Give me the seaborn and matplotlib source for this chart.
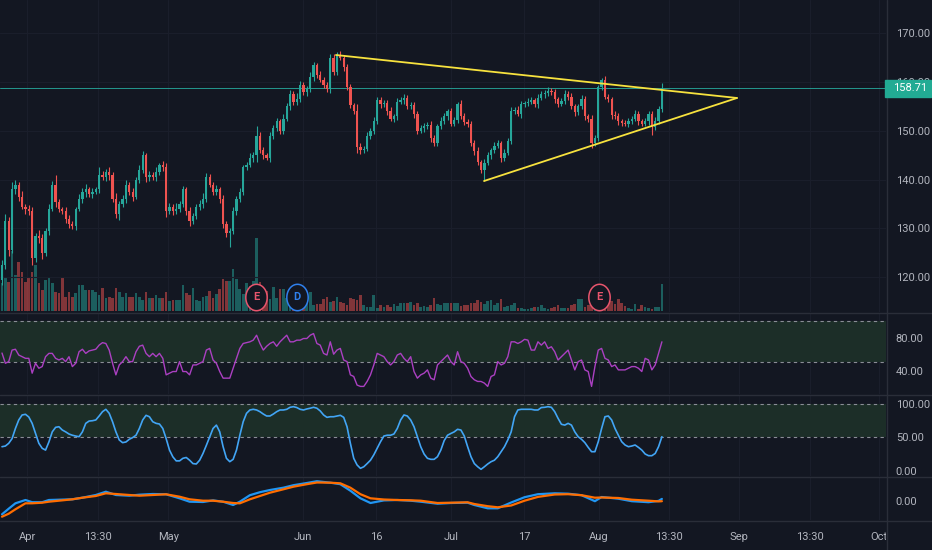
import numpy as np
import matplotlib
matplotlib.use("Agg")
import matplotlib.pyplot as plt
import matplotlib.transforms as mtransforms
from matplotlib.lines import Line2D
from matplotlib.patches import Rectangle
from matplotlib.path import Path
import seaborn as sns

# ---- data (4h bars, Apr -> mid Aug) ----
first_open = 119.5
closes = [
    122.5, 131.5, 125.5, 138, 139, 136.5, 134.5, 134, 133.5, 124,
    128.5, 128, 125, 129.5, 134, 139, 135.5, 134, 133.5, 132,
    131, 130.5, 134, 136, 137.5, 138, 137, 137.5, 138, 141,
    140.5, 141.5, 141, 136, 133, 135, 136, 139, 137.5, 136.5,
    140, 142, 145, 140.5, 141, 140.5, 141.5, 143, 142.5, 133.5,
    134.5, 133.5, 134, 135, 138, 133.5, 131.5, 132.5, 134.5, 135,
    136, 140.5, 139, 137.5, 138, 136, 131, 129, 129.5, 133.5,
    136, 137.5, 142.5, 143, 144.5, 145, 149, 146, 145, 144.5,
    149, 150.5, 152, 150, 152.5, 155, 157.5, 156, 156.5, 159.5,
    158, 158.5, 161, 163.5, 161.5, 160.5, 159.5, 158.5, 165, 162,
    165.5, 165, 163, 159, 155.3, 154, 146.7, 146, 146.3, 149,
    150, 152, 156.3, 155.5, 155.8, 154, 152.5, 153, 156, 156.3,
    156.8, 155, 155.3, 153.5, 150, 150.5, 151, 151.3, 148.5, 147.5,
    151, 152, 153, 154, 151.5, 152.3, 155.5, 153, 151.8, 151.5,
    147.5, 145.8, 143.6, 142, 143.5, 145, 146, 147, 147.5, 144.5,
    145.5, 148, 154, 154.3, 153.5, 155.5, 155.7, 156, 156.3, 155.5,
    156.8, 157.5, 157.8, 158.2, 157.9, 156.5, 155.5, 156.2, 157.6, 157,
    155, 153.8, 155, 156.5, 153, 152.5, 147.5, 148.5, 159, 160.5,
    157, 156.5, 153.2, 153, 152, 151.6, 151.5, 152, 152.5, 153.5,
    152, 151.5, 152, 153.5, 150.8, 152, 154.5, 158.71]

wick_up = [
    1.0, 1.5, 0.8, 1.5, 1.0, 0.6, 1.2, 0.5, 0.8, 1.0,
    0.6, 1.2, 0.8, 0.5, 1.0, 0.8, 2.0, 0.6, 0.5, 1.0,
    0.8, 0.6, 0.5, 1.0, 0.7, 1.2, 0.5, 0.8, 0.6, 1.5,
    0.8, 0.6, 1.0, 0.5, 1.2, 0.6, 0.8, 1.0, 0.5, 0.7,
    0.6, 1.0, 0.8, 0.5, 0.7, 0.6, 1.0, 0.5, 0.8, 1.0,
    0.7, 0.5, 1.2, 0.6, 0.8, 0.5, 1.0, 0.6, 0.5, 0.8,
    1.2, 0.8, 0.6, 0.5, 0.9, 0.6, 0.8, 0.5, 0.7, 1.0,
    0.6, 0.8, 0.5, 0.7, 1.0, 0.6, 2.0, 0.8, 0.6, 0.5,
    0.7, 0.8, 0.6, 0.5, 1.0, 0.7, 0.8, 0.6, 1.2, 0.8,
    0.5, 0.7, 1.0, 0.6, 0.5, 0.8, 0.6, 0.5, 0.8, 0.7,
    0.6, 0.8, 0.5, 0.7, 0.6, 0.5, 1.5, 0.8, 0.6, 0.7,
    0.5, 0.8, 0.6, 0.7, 0.5, 0.6, 0.8, 0.5, 0.7, 0.6,
    0.8, 0.5, 0.6, 0.7, 0.5, 0.8, 0.6, 0.5, 0.7, 0.6,
    0.5, 0.8, 0.6, 0.5, 0.7, 0.6, 0.5, 0.8, 0.6, 0.7,
    0.5, 0.6, 0.8, 0.5, 0.7, 0.6, 0.5, 0.8, 0.6, 0.5,
    0.7, 0.6, 0.8, 0.5, 0.7, 0.6, 0.5, 0.8, 0.6, 0.5,
    0.7, 0.6, 0.5, 0.8, 0.6, 0.7, 0.5, 0.6, 0.8, 0.5,
    0.7, 0.6, 0.5, 0.8, 0.6, 0.5, 0.7, 0.6, 0.5, 0.3,
    0.7, 0.6, 0.5, 0.8, 0.6, 0.5, 0.7, 0.6, 0.5, 0.8,
    0.6, 0.5, 0.7, 0.6, 0.5, 0.8, 0.7, 1.1]

wick_dn = [
    1.0, 0.8, 1.2, 0.6, 1.0, 0.8, 0.5, 1.0, 0.7, 1.5,
    0.8, 1.0, 1.2, 0.6, 0.8, 0.5, 1.0, 0.7, 0.6, 0.8,
    1.0, 0.6, 0.8, 0.5, 0.7, 1.0, 0.6, 0.8, 0.5, 0.7,
    0.6, 0.8, 1.0, 0.6, 0.8, 1.2, 0.5, 0.7, 0.6, 0.8,
    0.5, 0.7, 0.6, 1.0, 0.8, 0.5, 0.7, 0.6, 0.8, 1.2,
    0.6, 0.8, 0.5, 0.7, 0.6, 0.8, 1.0, 0.6, 0.5, 0.7,
    0.8, 0.6, 0.5, 0.7, 0.6, 0.8, 1.0, 0.7, 2.8, 0.6,
    0.8, 0.5, 0.7, 0.6, 0.5, 0.8, 1.3, 0.6, 0.7, 0.5,
    0.8, 0.6, 0.5, 0.7, 0.6, 0.5, 0.8, 0.6, 0.7, 0.5,
    0.6, 0.8, 0.5, 0.7, 0.6, 0.5, 0.8, 0.6, 0.7, 0.5,
    0.6, 0.5, 0.8, 0.6, 0.7, 0.5, 1.2, 0.8, 0.6, 0.5,
    0.7, 0.6, 0.5, 0.8, 0.6, 0.7, 0.5, 0.6, 0.8, 0.5,
    0.7, 0.6, 0.5, 0.8, 0.6, 0.5, 0.7, 0.6, 0.8, 0.5,
    0.6, 0.7, 0.5, 0.8, 0.6, 0.5, 0.7, 0.6, 0.5, 0.8,
    0.6, 0.7, 0.5, 0.6, 2.3, 0.5, 0.7, 0.6, 0.5, 0.8,
    0.6, 0.5, 0.7, 0.6, 0.5, 0.8, 0.6, 0.7, 0.5, 0.6,
    0.8, 0.5, 0.7, 0.6, 0.5, 0.8, 0.6, 0.5, 0.7, 0.6,
    0.5, 0.8, 0.6, 0.5, 0.7, 0.6, 1.0, 0.5, 0.6, 0.7,
    0.5, 0.6, 0.8, 0.5, 0.7, 0.6, 0.5, 0.8, 0.6, 0.5,
    0.7, 0.6, 0.5, 0.8, 1.6, 0.6, 0.5, 0.6]

volume = [
    28, 33, 29, 60, 36, 49, 39, 29, 34, 39,
    46, 28, 21, 31, 33, 28, 19, 18, 34, 14,
    19, 14, 18, 26, 26, 21, 21, 21, 19, 16,
    23, 13, 14, 13, 23, 19, 14, 18, 14, 14,
    18, 14, 11, 19, 13, 13, 16, 13, 13, 19,
    10, 11, 11, 11, 26, 18, 16, 23, 11, 10,
    14, 15, 20, 13, 17, 22, 32, 30, 30, 42,
    32, 22, 17, 28, 25, 30, 73, 29, 20, 20,
    12, 24, 13, 22, 22, 13, 10, 8, 8, 5,
    8, 12, 19, 6, 7, 7, 12, 14, 9, 10,
    14, 9, 8, 6, 13, 12, 11, 16, 6, 4,
    4, 16, 3, 6, 4, 6, 4, 7, 5, 8,
    8, 8, 9, 6, 8, 4, 5, 4, 6, 13,
    7, 6, 8, 8, 8, 8, 8, 5, 6, 6,
    8, 8, 11, 9, 7, 10, 11, 6, 8, 12,
    4, 5, 6, 8, 3, 3, 2, 2, 3, 4,
    4, 6, 3, 2, 3, 4, 6, 3, 3, 3,
    6, 7, 12, 12, 4, 6, 8, 9, 14, 12,
    10, 8, 10, 7, 12, 8, 5, 3, 2, 7,
    2, 6, 4, 3, 2, 4, 4, 27]

rsi = [
    61.4, 49, 51, 65, 66, 59, 57, 55, 55, 37,
    49, 43, 45, 57, 61, 61, 55, 53, 55, 51,
    57, 45, 49, 63, 66, 61, 64, 65, 66, 71,
    74, 73, 65, 49, 35, 47, 51, 57, 51, 51,
    63, 69.6, 71, 61, 57, 61, 57, 61, 55, 35,
    37, 39, 39, 51, 39, 39, 35, 47, 47, 49,
    51, 65, 67, 53, 49, 39, 31, 31, 31, 43,
    55, 67, 73, 74, 75, 77, 83, 73, 65, 69.6,
    73, 75, 69.6, 75, 79, 83, 75, 75, 77, 77,
    79, 79, 83, 85, 73, 71, 61, 59, 75, 60,
    65, 67, 53, 51, 35, 33, 22.6, 21, 21, 27,
    35, 47, 61, 59, 57, 51, 47, 51, 59, 61,
    55, 51, 57, 39, 31, 35, 37, 41, 31, 29,
    47, 51, 55, 59, 51, 47, 63, 51, 49, 43,
    33, 29, 27, 27, 25, 21, 33, 35, 51, 47,
    49, 57, 75, 75, 73, 75, 78, 77, 65, 65,
    75, 71, 75, 67, 69, 63, 53, 57, 61, 65,
    53, 41, 51, 53, 41, 39, 21, 45, 65, 67,
    55, 53, 45, 47, 41, 41, 41, 43, 45, 45,
    43, 39, 55, 53, 41, 47, 61, 75]

stoch = [
    36, 37, 41, 48, 63, 75.6, 83, 84, 80, 70.6,
    55.6, 41, 33.6, 31, 43, 58, 64.7, 65.6, 60.7, 58,
    54.8, 53, 51.8, 50.8, 58, 70.6, 74, 74.5, 75.6, 81.5,
    87.9, 91.4, 85.5, 73, 58, 46, 42, 43, 47, 49.5,
    53, 63, 75.6, 82.5, 80.4, 73, 70.6, 69.6, 63, 48,
    31, 21, 15, 15, 18.8, 20, 16, 11, 10.4, 16,
    26, 38, 50.7, 63, 68, 58, 36, 18.8, 13.8, 17.3,
    31, 53, 73, 85.5, 90.4, 91.4, 90.4, 87.9, 84.4, 81.5,
    81.5, 84.4, 87.9, 90.4, 90.4, 91.4, 94.4, 95.3, 94, 91.4,
    90.4, 91.9, 93, 94.4, 93, 89, 83, 79.5, 80.4, 80.4,
    81.5, 82.5, 79.5, 65.6, 41, 18.8, 9, 4, 6.3, 11,
    16, 24, 33.6, 43.4, 51.8, 53, 53, 54.8, 63, 75.6,
    83, 81.5, 75.6, 65.6, 50.8, 36, 25.2, 18.8, 17.3, 17.3,
    21.2, 31, 45, 53, 55.6, 58, 61.8, 60.7, 51.8, 36,
    21.2, 11, 6.3, 2.5, 6.3, 10.4, 13.8, 16, 21.2, 28.6,
    36, 46, 58, 80.4, 90.4, 91.4, 91.4, 91.4, 91.4, 90.4,
    90.4, 94, 94.4, 95.3, 94.4, 87.9, 78, 69.2, 68, 70.6,
    68, 58, 50.8, 47, 42, 35, 28.6, 28.6, 43.4, 63,
    80.4, 81.5, 75.6, 63, 53, 43.4, 38.5, 36, 37, 38.5,
    35, 31, 25.2, 22.7, 22.7, 26, 36, 50.8]

macd_bar = [0, 2, 4, 7, 9, 12, 14, 17, 21, 24, 28, 31, 34, 38, 41, 45, 49, 53,
            56, 60, 63, 66, 69, 71, 74, 77, 80, 84, 87, 91, 94, 98, 101, 104,
            107, 110, 114, 118, 122, 125, 130, 134, 139, 141, 145, 148, 152,
            156, 160, 165, 169, 173, 177, 179, 184, 188, 193, 196, 197]
macd_line = [-13.6, -8, -2.6, 0.7, -1.5, -1.5, 0.7, 1.0, 1.4, 3, 5.7, 9, 5.7,
             5, 6, 6.7, 6.4, 2.4, -1, -1.3, 0.3, -1, -4.3, -1, 5.5, 8.5, 10.7,
             13, 15.5, 17.7, 19.5, 18, 16.5, 10, 2.4, -2.3, 0.3, 0.7, 0, -1, -3,
             -2.3, -2, -4.3, -7.6, -7.6, -1.8, 3.5, 6.5, 7.4, 7, 5.5, -0.5, 3.7,
             2, -0.5, -1.5, -0.2, 1.8]
signal_line = [-16, -13, -8.6, -2.6, -2.6, -2, -1, 0, 1.4, 3, 4.7, 7.4, 6.7,
               5.7, 5, 5.7, 6.4, 4, 1.4, 0, 0, -1, -2.3, -2.6, 1.4, 4.7, 8,
               11.4, 14, 16.5, 18.2, 18, 17.4, 13, 6.5, 2.4, 1.2, 0.7, 0.4, 0,
               -2.3, -2, -1.6, -3.3, -5.5, -6.6, -4.8, 0, 3.8, 6.2, 6.5, 5.5, 3,
               3.2, 2.7, 1, 0, -0.7, -0.5]

# triangle drawing (bar index, price)
tri_upper_x = [99.7, 219.4]
tri_upper_y = [165.55, 156.74]
tri_lower_x = [143.9, 219.4]
tri_lower_y = [139.73, 156.74]

# earnings / dividend markers
events = [("E", 75.8, "#e8556d"), ("D", 88.0, "#2f80ed"), ("E", 178.2, "#e8556d")]

time_pos = [7.5, 28.7, 49.6, 89.9, 111.6, 134, 155.8, 178.2, 199.1, 220, 241.2, 261.8]
time_lab = ["Apr", "13:30", "May", "Jun", "16", "Jul", "17", "Aug", "13:30", "Sep", "13:30", "Oct"]

price_ticks = [120, 130, 140, 150, 160, 170]

# ---- styling ----
BG = "#131722"
TXT = "#b2b5be"
GRID = "#1a1e2b"
SEP = "#2a2e39"
UP = "#26a69a"
DN = "#ef5350"
YEL = "#f7e23e"
BAND = "#1c2e28"

sns.set_theme(style="dark", rc={"axes.facecolor": BG, "figure.facecolor": BG,
                                "savefig.facecolor": BG})
plt.rcParams["font.family"] = ["Roboto", "DejaVu Sans"]

n = len(closes)
bars = np.arange(n)
c = np.array(closes)
o = np.array([first_open] + closes[:-1])
hi = np.maximum(o, c) + np.array(wick_up)
lo = np.minimum(o, c) - np.array(wick_dn)
cols = np.where(c >= o, UP, DN)

W, H, PW = 932, 550, 886
XLIM = (-0.6, 263.9)


def rect(top, bottom):
    return [0, 1 - bottom / H, PW / W, (bottom - top) / H]


fig = plt.figure(figsize=(W / 100, H / 100), dpi=100)
ax_vol = fig.add_axes(rect(0, 312))
ax = fig.add_axes(rect(0, 312))
ax_rsi = fig.add_axes(rect(313, 394))
ax_sto = fig.add_axes(rect(395, 476))
ax_macd = fig.add_axes(rect(477, 520))
ax_time = fig.add_axes(rect(520, 550))
ax.set_facecolor("none")

for a in (ax_vol, ax, ax_rsi, ax_sto, ax_macd, ax_time):
    a.set_xlim(*XLIM)
    a.grid(False)
    for s in a.spines.values():
        s.set_visible(False)
    a.tick_params(axis="x", bottom=False, labelbottom=False)

# vertical grid
for a in (ax_vol, ax_rsi, ax_sto, ax_macd):
    for p in time_pos:
        a.axvline(p, color=GRID, lw=0.8, zorder=0)

# volume
ax_vol.bar(bars, volume, width=0.8, color=cols, alpha=0.5, linewidth=0)
ax_vol.set_ylim(-1, 311)
ax_vol.set_yticks([])

# candles
ax.set_ylim(112.89, 176.82)
for p in price_ticks:
    ax.axhline(p, color=GRID, lw=0.8, zorder=0)
ax.vlines(bars, lo, hi, colors=cols, lw=0.8, zorder=2)
ax.bar(bars, np.maximum(np.abs(c - o), 0.12), bottom=np.minimum(o, c),
       width=0.68, color=cols, linewidth=0, zorder=3)
ax.plot(tri_upper_x, tri_upper_y, color=YEL, lw=1.3, zorder=4)
ax.plot(tri_lower_x, tri_lower_y, color=YEL, lw=1.3, zorder=4)
ax.axhline(closes[-1], color=UP, lw=0.7, alpha=0.9, zorder=1)

trans = mtransforms.blended_transform_factory(ax.transData, ax.transAxes)
t = np.linspace(0, 2 * np.pi, 64)
ell = Path(np.column_stack([0.81 * np.cos(t), np.sin(t)]), closed=True)
for lab, pos, col in events:
    ax.plot([pos], [0.048], marker=ell, ms=19, mfc=BG, mec=col, mew=1.1,
            transform=trans, clip_on=False, zorder=6)
    ax.text(pos, 0.048, lab, transform=trans, color=col, ha="center",
            va="center", fontsize=8, fontweight="bold", zorder=7)

# RSI pane
ax_rsi.set_ylim(11.8, 109.9)
ax_rsi.axhspan(50, 100, color=BAND, lw=0, zorder=0)
for v in (100, 50):
    ax_rsi.axhline(v, color="#8a8d96", lw=0.8, ls=(0, (3, 3)), zorder=1)
sns.lineplot(x=bars, y=rsi, ax=ax_rsi, color="#ab40c2", linewidth=1.0, zorder=3)

# Stochastic pane
ax_sto.set_ylim(-7.4, 112.6)
ax_sto.axhspan(50, 100, color=BAND, lw=0, zorder=0)
for v in (100, 50):
    ax_sto.axhline(v, color="#8a8d96", lw=0.8, ls=(0, (3, 3)), zorder=1)
sns.lineplot(x=bars, y=stoch, ax=ax_sto, color="#42a5f5", linewidth=1.2, zorder=3)

# MACD pane
ax_macd.set_ylim(-19.3, 23.7)
sns.lineplot(x=macd_bar, y=macd_line, ax=ax_macd, color="#2196f3", linewidth=1.6, zorder=3)
sns.lineplot(x=macd_bar, y=signal_line, ax=ax_macd, color="#ff6d00", linewidth=1.6, zorder=4)

for a, ticks in ((ax, price_ticks), (ax_rsi, [40, 80]), (ax_sto, [0, 50, 100]), (ax_macd, [0])):
    a.yaxis.tick_right()
    a.set_yticks(ticks)
    a.set_yticklabels([f"{v:.2f}" for v in ticks])
    a.tick_params(axis="y", length=0, pad=7, labelsize=8, labelcolor=TXT)
    a.set_xlabel("")
    a.set_ylabel("")

# time scale
ax_time.set_ylim(0, 1)
ax_time.set_yticks([])
for p, lab in zip(time_pos, time_lab):
    ax_time.text(p, 0.43, lab, ha="center", va="center", color=TXT, fontsize=8, clip_on=True)

# pane separators
for y in (312.5, 394.5, 476.5, 520.5):
    fig.add_artist(Line2D([0, 1], [1 - y / H] * 2, transform=fig.transFigure, color=SEP, lw=1))
fig.add_artist(Line2D([886.5 / W] * 2, [0, 1], transform=fig.transFigure, color=SEP, lw=1))

# last price label
fig.canvas.draw()
yp = ax.transData.transform((0, closes[-1]))[1]
fig.add_artist(Rectangle((885 / W, (yp - 8.5) / H), 46 / W, 17 / H,
                         transform=fig.transFigure, color="#22ab94", zorder=10))
fig.text(893 / W, yp / H, f"{closes[-1]:.2f}", color="white", fontsize=8,
         ha="left", va="center", zorder=11)

fig.savefig("out.png", dpi=100, facecolor=BG)
